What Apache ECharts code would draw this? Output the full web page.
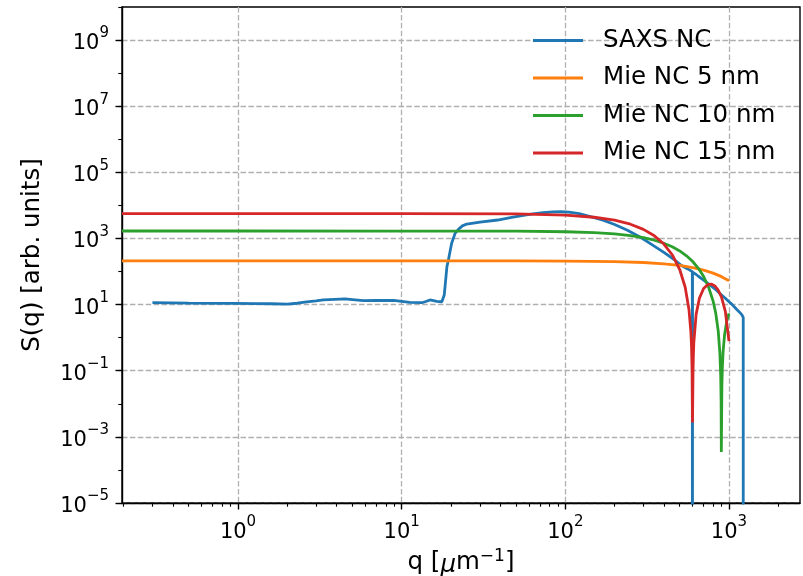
<!DOCTYPE html>
<html><head><meta charset="utf-8">
<script src="https://cdn.jsdelivr.net/npm/echarts@6/dist/echarts.min.js"></script>
<style>html,body{margin:0;padding:0;background:#fff}#c{width:803px;height:576px}</style>
</head><body><div id="c"></div>
<script>
// ---- data ----
const seriesNames = ['SAXS NC', 'Mie NC 5 nm', 'Mie NC 10 nm', 'Mie NC 15 nm'];

const saxsQ = [0.3, 0.5, 0.8, 0.94, 1.3, 1.6, 2.0, 2.3, 2.63, 3.0, 3.32, 3.9, 4.5, 5.2, 5.83, 7.0, 8.9, 10.0, 11.2, 13.3, 14.2, 14.9, 16.4, 17.6, 18.2, 18.6, 18.9, 19.3, 20.2, 21.2, 22.2, 23.5, 25, 30.1, 38.6, 47, 56.6, 65, 73, 84, 94, 105, 121.6, 148, 170, 200, 238, 288, 340, 400, 460, 515, 560, 597, 598, 599, 620, 650, 700, 757, 820, 880, 950, 1000, 1020, 1040, 1060, 1080, 1100, 1120, 1140, 1160, 1180, 1200, 1215, 1222, 1223];
const saxsS = [11.4, 11.1, 10.9, 10.9, 10.7, 10.6, 10.4, 11.0, 12.0, 12.9, 13.8, 14.4, 14.8, 13.9, 13.1, 13.3, 13.4, 12.6, 11.7, 11.4, 12.6, 13.8, 12.6, 12.2, 19.5, 60, 140, 223, 713, 1430, 1890, 2400, 2735, 3140, 3614, 4350, 5117, 5650, 6000, 6350, 6430, 6250, 5650, 4350, 3600, 2650, 1800, 1090, 640, 380, 235, 149, 120, 99, 1e-12, 96, 86, 72, 55, 41, 30, 21.5, 15.5, 12.2, 11.6, 10.3, 9.9, 8.4, 8.3, 7.0, 6.9, 5.9, 5.8, 4.9, 4.7, 4.1, 1e-12];

const mie5Q = [0.1955, 1, 10, 50, 100, 200, 300, 400, 500, 600, 700, 800, 900, 1000];
const mie5S = [210, 210, 209.9, 209.3, 207.4, 199.7, 187.5, 171.4, 152.5, 131.8, 110.5, 89.6, 70.0, 52.4];

const mie10Q = [0.1955, 1, 10, 50, 100, 150, 200, 250, 300, 350, 400, 450, 500, 550, 600, 650, 700, 750, 800, 830, 860, 880, 890, 895, 898, 905, 910, 920, 940, 970, 1000];
const mie10S = [1680, 1680, 1679, 1659, 1598, 1500, 1371, 1220, 1055, 884, 717, 560, 419, 299, 201, 125, 70.5, 34.1, 12.7, 5.53, 1.56, 0.335, 0.0707, 0.0123, 0.00035, 0.0343, 0.107, 0.364, 1.24, 3.19, 5.47];

const mie15Q = [0.1955, 1, 10, 50, 100, 150, 200, 250, 300, 350, 400, 450, 500, 540, 570, 585, 590, 595, 598.5, 603, 606, 610, 630, 660, 700, 740, 780, 820, 860, 900, 950, 1000];
const mie15S = [5670, 5670, 5664, 5513, 5062, 4381, 3560, 2698, 1889, 1202, 678, 322, 115, 33.5, 6.84, 1.46, 0.604, 0.118, 0.0027, 0.0986, 0.302, 0.738, 5.15, 15.8, 30.7, 40.1, 41.8, 36.6, 27.2, 16.8, 6.23, 0.79];

const xMajorTicks = [1, 10, 100, 1000];
const xMinorTicks = [0.2,0.3,0.4,0.5,0.6,0.7,0.8,0.9,2,3,4,5,6,7,8,9,20,30,40,50,60,70,80,90,200,300,400,500,600,700,800,900,2000];
const yMajorTicks = [1e-5, 1e-3, 1e-1, 1e1, 1e3, 1e5, 1e7, 1e9];
const yMinorTicks = [1e-5,1e-4,1e-3,1e-2,1e-1,1,1e1,1e2,1e3,1e4,1e5,1e6,1e7,1e8,1e9,1e10];
const xRange = [0.1955, 2716];
const yRange = [1e-5, 1e10];

// ---- chart ----
const FONT = 'DejaVu Sans';
const colors = ['#1f77b4', '#ff7f0e', '#2ca02c', '#d62728'];
function zip(a, b) { return a.map((v, i) => [v, b[i]]); }
function powLabel(v) {
  const e = Math.round(Math.log10(v));
  return '{b|10}{s|' + (e < 0 ? '\u2212' + (-e) : e) + '}';
}
const richLab = {
  b: { fontFamily: FONT, fontSize: 21, color: '#000', lineHeight: 28, verticalAlign: 'bottom' },
  s: { fontFamily: FONT, fontSize: 15, color: '#000', lineHeight: 16, verticalAlign: 'top' }
};
const gridLine = { show: true, lineStyle: { color: '#b0b0b0', width: 1.3, type: [5.5, 2.4] } };

const chart = echarts.init(document.getElementById('c'), null, { renderer: 'canvas' });
chart.setOption({
  animation: false,
  backgroundColor: '#fff',
  color: colors,
  grid: { left: 122, right: 3, top: 7, bottom: 73, show: true, borderColor: '#000', borderWidth: 1.4, backgroundColor: 'transparent', containLabel: false, outerBoundsMode: 'none' },
  legend: {
    orient: 'vertical', left: 533, top: 26, padding: 0,
    icon: 'rect', itemWidth: 50, itemHeight: 3, itemGap: 8.5,
    textStyle: { fontFamily: FONT, fontSize: 24.5, color: '#000', lineHeight: 29, padding: [0, 0, 0, 15] },
    data: seriesNames
  },
  xAxis: [{
    type: 'log', logBase: 10, min: xRange[0], max: xRange[1], position: 'bottom',
    name: 'q [{i|\u03bc}m{s|\u22121}]', nameLocation: 'middle', nameGap: 38,
    nameTextStyle: { fontFamily: FONT, fontSize: 24.5, color: '#000', lineHeight: 30,
      rich: { i: { fontFamily: FONT, fontStyle: 'italic', fontSize: 24.5, color: '#000', lineHeight: 30, verticalAlign: 'bottom' },
              s: { fontFamily: FONT, fontSize: 17, color: '#000', lineHeight: 18, verticalAlign: 'top' } } },
    axisLine: { show: true, lineStyle: { color: '#000', width: 1.4 } },
    axisTick: { show: true, inside: false, length: 6.5, lineStyle: { color: '#000', width: 1.4 }, customValues: xMajorTicks },
    axisLabel: { show: true, margin: 12, customValues: xMajorTicks, formatter: powLabel, rich: richLab },
    splitLine: gridLine, minorTick: { show: false }
  }, {
    type: 'log', logBase: 10, min: xRange[0], max: xRange[1], position: 'bottom',
    axisLine: { show: false },
    axisTick: { show: true, inside: false, length: 3.7, lineStyle: { color: '#000', width: 1.1 }, customValues: xMinorTicks },
    axisLabel: { show: false }, splitLine: { show: false }
  }],
  yAxis: [{
    type: 'log', logBase: 10, min: yRange[0], max: yRange[1], position: 'left',
    name: 'S(q) [arb. units]', nameLocation: 'middle', nameGap: 77, nameRotate: 90,
    nameTextStyle: { fontFamily: FONT, fontSize: 24.5, color: '#000' },
    axisLine: { show: true, lineStyle: { color: '#000', width: 1.4 } },
    axisTick: { show: true, inside: false, length: 6.5, lineStyle: { color: '#000', width: 1.4 }, customValues: yMajorTicks },
    axisLabel: { show: true, margin: 13, customValues: yMajorTicks, formatter: powLabel, rich: richLab },
    splitLine: gridLine
  }, {
    type: 'log', logBase: 10, min: yRange[0], max: yRange[1], position: 'left',
    axisLine: { show: false },
    axisTick: { show: true, inside: false, length: 3.7, lineStyle: { color: '#000', width: 1.1 }, customValues: yMinorTicks },
    axisLabel: { show: false }, splitLine: { show: false }
  }],
  series: [
    { name: seriesNames[0], type: 'line', data: zip(saxsQ, saxsS), showSymbol: false, symbol: 'none', clip: true, lineStyle: { width: 2.8, color: colors[0] }, z: 2 },
    { name: seriesNames[1], type: 'line', data: zip(mie5Q, mie5S), showSymbol: false, symbol: 'none', clip: true, lineStyle: { width: 2.8, color: colors[1] }, z: 3 },
    { name: seriesNames[2], type: 'line', data: zip(mie10Q, mie10S), showSymbol: false, symbol: 'none', clip: true, lineStyle: { width: 2.8, color: colors[2] }, z: 4 },
    { name: seriesNames[3], type: 'line', data: zip(mie15Q, mie15S), showSymbol: false, symbol: 'none', clip: true, lineStyle: { width: 2.8, color: colors[3] }, z: 5 }
  ]
});
</script></body></html>
